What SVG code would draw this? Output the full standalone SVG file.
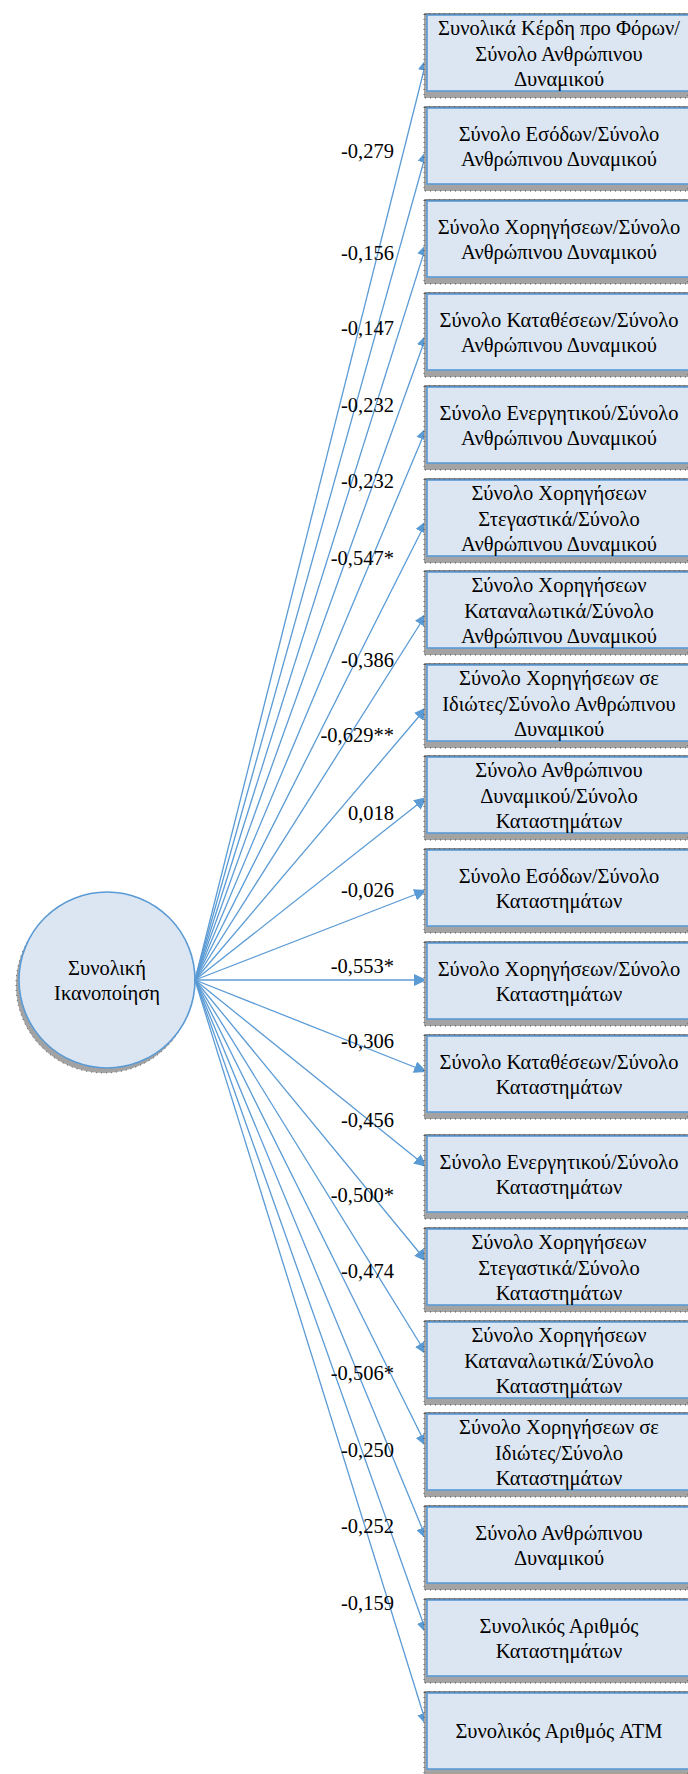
<svg xmlns="http://www.w3.org/2000/svg" width="688" height="1774" viewBox="0 0 688 1774">
  <style>
    .shadow { fill: #a3a3a3; stroke: #2b2b2b; stroke-width: 0.8; stroke-dasharray: 1 4; }
    .box { fill: #dce6f2; stroke: #5b9bd5; stroke-width: 1.6; }
    .topline { stroke: #1a1a1a; stroke-width: 1.2; }
    .lbl { font-family: "Liberation Serif", "Times New Roman", serif; font-size: 20.5px; fill: #000; }
    .t { font-family: "Liberation Serif", "Times New Roman", serif; font-size: 20.5px; fill: #000; text-anchor: middle; }
    .conn { stroke: #5b9bd5; stroke-width: 1.3; fill: none; marker-end: url(#arrow); }
  </style>
  <defs>
    <marker id="arrow" markerUnits="userSpaceOnUse" markerWidth="14" markerHeight="12" refX="13" refY="6" orient="auto">
      <path d="M0,0 L13,6 L0,12 z" fill="#5b9bd5"/>
    </marker>
  </defs>
  <rect width="688" height="1774" fill="#ffffff"/>

  <!-- central construct -->
  <g id="node-satisfaction">
    <circle cx="104" cy="985" r="88" class="shadow"/>
    <circle cx="107" cy="980" r="88" class="box"/>
    <text class="t" x="107" y="975">Συνολική</text>
    <text class="t" x="107" y="1000">Ικανοποίηση</text>
  </g>

  <!-- connectors from the construct to each ratio -->
  <g id="connectors">
    <line class="conn" x1="195" y1="980" x2="427" y2="58"/>
    <line class="conn" x1="195" y1="980" x2="427" y2="150"/>
    <line class="conn" x1="195" y1="980" x2="427" y2="243"/>
    <line class="conn" x1="195" y1="980" x2="427" y2="334"/>
    <line class="conn" x1="195" y1="980" x2="427" y2="427"/>
    <line class="conn" x1="195" y1="980" x2="427" y2="520"/>
    <line class="conn" x1="195" y1="980" x2="427" y2="613"/>
    <line class="conn" x1="195" y1="980" x2="427" y2="707"/>
    <line class="conn" x1="195" y1="980" x2="427" y2="797"/>
    <line class="conn" x1="195" y1="980" x2="427" y2="890"/>
    <line class="conn" x1="195" y1="980" x2="427" y2="980"/>
    <line class="conn" x1="195" y1="980" x2="427" y2="1072"/>
    <line class="conn" x1="195" y1="980" x2="427" y2="1167"/>
    <line class="conn" x1="195" y1="980" x2="427" y2="1262"/>
    <line class="conn" x1="195" y1="980" x2="427" y2="1355"/>
    <line class="conn" x1="195" y1="980" x2="427" y2="1447"/>
    <line class="conn" x1="195" y1="980" x2="427" y2="1540"/>
    <line class="conn" x1="195" y1="980" x2="427" y2="1634"/>
    <line class="conn" x1="195" y1="980" x2="427" y2="1726"/>
  </g>

  <!-- path coefficients -->
  <g id="coefficients" text-anchor="end">
    <text class="lbl" x="394" y="158">-0,279</text>
    <text class="lbl" x="394" y="260">-0,156</text>
    <text class="lbl" x="394" y="335">-0,147</text>
    <text class="lbl" x="394" y="412">-0,232</text>
    <text class="lbl" x="394" y="488">-0,232</text>
    <text class="lbl" x="394" y="565">-0,547*</text>
    <text class="lbl" x="394" y="667">-0,386</text>
    <text class="lbl" x="394" y="742">-0,629**</text>
    <text class="lbl" x="394" y="820">0,018</text>
    <text class="lbl" x="394" y="897">-0,026</text>
    <text class="lbl" x="394" y="973">-0,553*</text>
    <text class="lbl" x="394" y="1048">-0,306</text>
    <text class="lbl" x="394" y="1127">-0,456</text>
    <text class="lbl" x="394" y="1202">-0,500*</text>
    <text class="lbl" x="394" y="1278">-0,474</text>
    <text class="lbl" x="394" y="1380">-0,506*</text>
    <text class="lbl" x="394" y="1457">-0,250</text>
    <text class="lbl" x="394" y="1533">-0,252</text>
    <text class="lbl" x="394" y="1610">-0,159</text>
  </g>

  <!-- ratio boxes -->
  <g id="node-01">
    <rect class="shadow" x="424" y="14" width="264" height="84"/>
    <line class="topline" x1="425" y1="14" x2="688" y2="14"/>
    <rect class="box" x="427" y="15" width="264" height="76"/>
    <text class="t" x="559" y="35">Συνολικά Κέρδη προ Φόρων/</text>
    <text class="t" x="559" y="60.5">Σύνολο Ανθρώπινου</text>
    <text class="t" x="559" y="86">Δυναμικού</text>
  </g>
  <g id="node-02">
    <rect class="shadow" x="424" y="107" width="264" height="84"/>
    <line class="topline" x1="425" y1="107" x2="688" y2="107"/>
    <rect class="box" x="427" y="108" width="264" height="76"/>
    <text class="t" x="559" y="140.5">Σύνολο Εσόδων/Σύνολο</text>
    <text class="t" x="559" y="166">Ανθρώπινου Δυναμικού</text>
  </g>
  <g id="node-03">
    <rect class="shadow" x="424" y="200" width="264" height="84"/>
    <line class="topline" x1="425" y1="200" x2="688" y2="200"/>
    <rect class="box" x="427" y="201" width="264" height="76"/>
    <text class="t" x="559" y="233.5">Σύνολο Χορηγήσεων/Σύνολο</text>
    <text class="t" x="559" y="259">Ανθρώπινου Δυναμικού</text>
  </g>
  <g id="node-04">
    <rect class="shadow" x="424" y="293" width="264" height="84"/>
    <line class="topline" x1="425" y1="293" x2="688" y2="293"/>
    <rect class="box" x="427" y="294" width="264" height="76"/>
    <text class="t" x="559" y="326.5">Σύνολο Καταθέσεων/Σύνολο</text>
    <text class="t" x="559" y="352">Ανθρώπινου Δυναμικού</text>
  </g>
  <g id="node-05">
    <rect class="shadow" x="424" y="386" width="264" height="84"/>
    <line class="topline" x1="425" y1="386" x2="688" y2="386"/>
    <rect class="box" x="427" y="387" width="264" height="76"/>
    <text class="t" x="559" y="419.5">Σύνολο Ενεργητικού/Σύνολο</text>
    <text class="t" x="559" y="445">Ανθρώπινου Δυναμικού</text>
  </g>
  <g id="node-06">
    <rect class="shadow" x="424" y="479" width="264" height="84"/>
    <line class="topline" x1="425" y1="479" x2="688" y2="479"/>
    <rect class="box" x="427" y="480" width="264" height="76"/>
    <text class="t" x="559" y="500">Σύνολο Χορηγήσεων</text>
    <text class="t" x="559" y="525.5">Στεγαστικά/Σύνολο</text>
    <text class="t" x="559" y="551">Ανθρώπινου Δυναμικού</text>
  </g>
  <g id="node-07">
    <rect class="shadow" x="424" y="571" width="264" height="84"/>
    <line class="topline" x1="425" y1="571" x2="688" y2="571"/>
    <rect class="box" x="427" y="572" width="264" height="76"/>
    <text class="t" x="559" y="592">Σύνολο Χορηγήσεων</text>
    <text class="t" x="559" y="617.5">Καταναλωτικά/Σύνολο</text>
    <text class="t" x="559" y="643">Ανθρώπινου Δυναμικού</text>
  </g>
  <g id="node-08">
    <rect class="shadow" x="424" y="664" width="264" height="84"/>
    <line class="topline" x1="425" y1="664" x2="688" y2="664"/>
    <rect class="box" x="427" y="665" width="264" height="76"/>
    <text class="t" x="559" y="685">Σύνολο Χορηγήσεων σε</text>
    <text class="t" x="559" y="710.5">Ιδιώτες/Σύνολο Ανθρώπινου</text>
    <text class="t" x="559" y="736">Δυναμικού</text>
  </g>
  <g id="node-09">
    <rect class="shadow" x="424" y="756" width="264" height="84"/>
    <line class="topline" x1="425" y1="756" x2="688" y2="756"/>
    <rect class="box" x="427" y="757" width="264" height="76"/>
    <text class="t" x="559" y="777">Σύνολο Ανθρώπινου</text>
    <text class="t" x="559" y="802.5">Δυναμικού/Σύνολο</text>
    <text class="t" x="559" y="828">Καταστημάτων</text>
  </g>
  <g id="node-10">
    <rect class="shadow" x="424" y="849" width="264" height="84"/>
    <line class="topline" x1="425" y1="849" x2="688" y2="849"/>
    <rect class="box" x="427" y="850" width="264" height="76"/>
    <text class="t" x="559" y="882.5">Σύνολο Εσόδων/Σύνολο</text>
    <text class="t" x="559" y="908">Καταστημάτων</text>
  </g>
  <g id="node-11">
    <rect class="shadow" x="424" y="942" width="264" height="84"/>
    <line class="topline" x1="425" y1="942" x2="688" y2="942"/>
    <rect class="box" x="427" y="943" width="264" height="76"/>
    <text class="t" x="559" y="975.5">Σύνολο Χορηγήσεων/Σύνολο</text>
    <text class="t" x="559" y="1001">Καταστημάτων</text>
  </g>
  <g id="node-12">
    <rect class="shadow" x="424" y="1035" width="264" height="84"/>
    <line class="topline" x1="425" y1="1035" x2="688" y2="1035"/>
    <rect class="box" x="427" y="1036" width="264" height="76"/>
    <text class="t" x="559" y="1068.5">Σύνολο Καταθέσεων/Σύνολο</text>
    <text class="t" x="559" y="1094">Καταστημάτων</text>
  </g>
  <g id="node-13">
    <rect class="shadow" x="424" y="1135" width="264" height="84"/>
    <line class="topline" x1="425" y1="1135" x2="688" y2="1135"/>
    <rect class="box" x="427" y="1136" width="264" height="76"/>
    <text class="t" x="559" y="1168.5">Σύνολο Ενεργητικού/Σύνολο</text>
    <text class="t" x="559" y="1194">Καταστημάτων</text>
  </g>
  <g id="node-14">
    <rect class="shadow" x="424" y="1228" width="264" height="84"/>
    <line class="topline" x1="425" y1="1228" x2="688" y2="1228"/>
    <rect class="box" x="427" y="1229" width="264" height="76"/>
    <text class="t" x="559" y="1249">Σύνολο Χορηγήσεων</text>
    <text class="t" x="559" y="1274.5">Στεγαστικά/Σύνολο</text>
    <text class="t" x="559" y="1300">Καταστημάτων</text>
  </g>
  <g id="node-15">
    <rect class="shadow" x="424" y="1321" width="264" height="84"/>
    <line class="topline" x1="425" y1="1321" x2="688" y2="1321"/>
    <rect class="box" x="427" y="1322" width="264" height="76"/>
    <text class="t" x="559" y="1342">Σύνολο Χορηγήσεων</text>
    <text class="t" x="559" y="1367.5">Καταναλωτικά/Σύνολο</text>
    <text class="t" x="559" y="1393">Καταστημάτων</text>
  </g>
  <g id="node-16">
    <rect class="shadow" x="424" y="1413" width="264" height="84"/>
    <line class="topline" x1="425" y1="1413" x2="688" y2="1413"/>
    <rect class="box" x="427" y="1414" width="264" height="76"/>
    <text class="t" x="559" y="1434">Σύνολο Χορηγήσεων σε</text>
    <text class="t" x="559" y="1459.5">Ιδιώτες/Σύνολο</text>
    <text class="t" x="559" y="1485">Καταστημάτων</text>
  </g>
  <g id="node-17">
    <rect class="shadow" x="424" y="1506" width="264" height="84"/>
    <line class="topline" x1="425" y1="1506" x2="688" y2="1506"/>
    <rect class="box" x="427" y="1507" width="264" height="76"/>
    <text class="t" x="559" y="1539.5">Σύνολο Ανθρώπινου</text>
    <text class="t" x="559" y="1565">Δυναμικού</text>
  </g>
  <g id="node-18">
    <rect class="shadow" x="424" y="1599" width="264" height="84"/>
    <line class="topline" x1="425" y1="1599" x2="688" y2="1599"/>
    <rect class="box" x="427" y="1600" width="264" height="76"/>
    <text class="t" x="559" y="1632.5">Συνολικός Αριθμός</text>
    <text class="t" x="559" y="1658">Καταστημάτων</text>
  </g>
  <g id="node-19">
    <rect class="shadow" x="424" y="1692" width="264" height="84"/>
    <line class="topline" x1="425" y1="1692" x2="688" y2="1692"/>
    <rect class="box" x="427" y="1693" width="264" height="76"/>
    <text class="t" x="559" y="1738">Συνολικός Αριθμός ATM</text>
  </g>
</svg>
